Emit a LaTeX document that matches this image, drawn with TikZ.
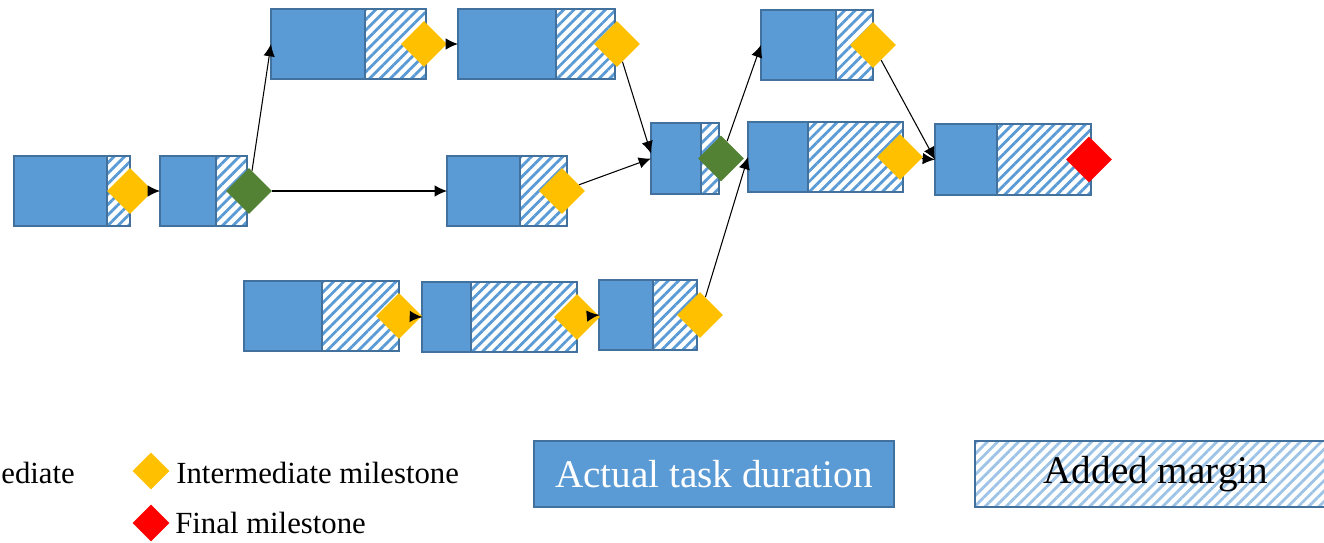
\documentclass[tikz,border=0pt]{standalone}
\usepackage{fontspec}
\setmainfont{Liberation Serif}
\usepackage{tikz}
\usetikzlibrary{arrows.meta}
\usetikzlibrary{positioning}
\usetikzlibrary{shapes.geometric, patterns.meta}
\tikzset{>={Latex[length=7pt,width=6.5pt]}}
\definecolor{taskblue}{HTML}{5B9BD5}
\definecolor{edgeblue}{HTML}{41719C}
\definecolor{msyellow}{HTML}{FFC000}
\definecolor{msgreen}{HTML}{548235}
\definecolor{msred}{HTML}{FF0000}
\definecolor{lightstripe}{HTML}{9DC3E6}
\tikzstyle{taskbox} = [rectangle, minimum height=1.4cm, inner sep=0pt, outer sep=0pt, draw=edgeblue, line width=1.1pt, fill=taskblue]
\tikzstyle{marginbox} = [rectangle, minimum height=1.4cm, inner sep=0pt, outer sep=0pt, draw=edgeblue, line width=1.1pt, pattern={Lines[angle=45,distance=4.2pt,line width=1.6pt]}, pattern color=taskblue]
\tikzstyle{midstone} = [diamond, minimum size=0.92cm, inner sep=0pt, fill=msyellow]
\tikzstyle{mergestone} = [diamond, minimum size=0.92cm, inner sep=0pt, fill=msgreen]
\tikzstyle{endstone} = [diamond, minimum size=0.92cm, inner sep=0pt, fill=msred]
\tikzstyle{arrow} = [line width=0.6pt,->]
\tikzstyle{keytext} = [inner sep=0pt, font=\fontsize{17.5}{21}\selectfont]
\tikzstyle{keybig} = [rectangle, anchor=north west, minimum height=1.32cm, inner sep=0pt, draw=edgeblue, line width=1.1pt, font=\fontsize{22.3}{27}\selectfont]

\begin{document}
\begin{tikzpicture}[x=0.02cm,y=-0.02cm]
\useasboundingbox (0,0) rectangle (1324,542);
\clip (0,0) rectangle (1324,542);
\node (t1) [taskbox, anchor=north west, minimum width=1.86cm] at (14,156) {};
\node (m1) [marginbox, minimum width=0.46cm, right=0pt of t1] {};
\node (t2) [taskbox, anchor=north west, minimum width=1.12cm] at (160,156) {};
\node (m2) [marginbox, minimum width=0.62cm, right=0pt of t2] {};
\node (t3) [taskbox, anchor=north west, minimum width=1.46cm] at (447,156) {};
\node (m3) [marginbox, minimum width=0.94cm, right=0pt of t3] {};
\node (t4) [taskbox, anchor=north west, minimum width=1.88cm] at (271,9) {};
\node (m4) [marginbox, minimum width=1.22cm, right=0pt of t4] {};
\node (t5) [taskbox, anchor=north west, minimum width=1.96cm] at (458,9) {};
\node (m5) [marginbox, minimum width=1.18cm, right=0pt of t5] {};
\node (t6) [taskbox, anchor=north west, minimum width=1.0cm, minimum height=1.42cm] at (651,123) {};
\node (m6) [marginbox, minimum width=0.36cm, minimum height=1.42cm, right=0pt of t6] {};
\node (t7) [taskbox, anchor=north west, minimum width=1.5cm] at (761,10) {};
\node (m7) [marginbox, minimum width=0.74cm, right=0pt of t7] {};
\node (t8) [taskbox, anchor=north west, minimum width=1.2cm] at (748,122) {};
\node (m8) [marginbox, minimum width=1.9cm, right=0pt of t8] {};
\node (t9) [taskbox, anchor=north west, minimum width=1.24cm, minimum height=1.42cm] at (935,124) {};
\node (m9) [marginbox, minimum width=1.88cm, minimum height=1.42cm, right=0pt of t9] {};
\node (t10) [taskbox, anchor=north west, minimum width=1.56cm] at (244,281) {};
\node (m10) [marginbox, minimum width=1.54cm, right=0pt of t10] {};
\node (t11) [taskbox, anchor=north west, minimum width=0.98cm] at (422,282) {};
\node (m11) [marginbox, minimum width=2.12cm, right=0pt of t11] {};
\node (t12) [taskbox, anchor=north west, minimum width=1.08cm] at (599,280) {};
\node (m12) [marginbox, minimum width=0.88cm, right=0pt of t12] {};
\node (d1) [midstone] at (m1.east) {};
\node (g1) [mergestone] at ([xshift=0.04cm]m2.east) {};
\node (d3) [midstone] at ([xshift=-0.1cm]m3.east) {};
\node (d4) [midstone] at ([xshift=-0.04cm]m4.east) {};
\node (d5) [midstone] at ([xshift=0.04cm]m5.east) {};
\node (g2) [mergestone] at ([xshift=0.04cm]m6.east) {};
\node (d7) [midstone] at (m7.east) {};
\node (d8) [midstone] at ([xshift=-0.06cm]m8.east) {};
\node (f9) [endstone] at ([xshift=-0.04cm]m9.east) {};
\node (d10) [midstone] at (m10.east) {};
\node (d11) [midstone] at (m11.east) {};
\node (d12) [midstone] at ([xshift=0.06cm]m12.east) {};
\draw [arrow] (d1) -- (t2.west);
\draw [arrow] (g1) -- (t3.west);
\draw [arrow] (g1) -- (t4.west);
\draw [arrow] (d4) -- (t5.west);
\draw [arrow] (d5) -- ([yshift=0.1cm]t6.west);
\draw [arrow] (d3) -- (t6.west);
\draw [arrow] (g2) -- (t7.west);
\draw [arrow] (d12) -- (t8.west);
\draw [arrow] (d7) -- (t9.west);
\draw [arrow] (d8) -- (t9.west);
\draw [arrow] (d10) -- (t11.west);
\draw [arrow] (d11) -- (t12.west);
\node (k0) [keytext, anchor=base west] at (1,483) {ediate};
\node (k1) [midstone, minimum size=0.74cm] at (151,471) {};
\node (k1t) [keytext, anchor=base west] at (176,483) {Intermediate milestone};
\node (k2) [endstone, minimum size=0.74cm] at (151,523) {};
\node (k2t) [keytext, anchor=base west] at (175,533) {Final milestone};
\node (k3) [keybig, fill=taskblue, text=white, minimum width=7.2cm] at (533,440) {Actual task duration};
\node (k4) [keybig, pattern={Lines[angle=45,distance=4.2pt,line width=1.6pt]}, pattern color=lightstripe, minimum width=7.24cm] at (974,440) {Added margin};
\end{tikzpicture}
\end{document}
